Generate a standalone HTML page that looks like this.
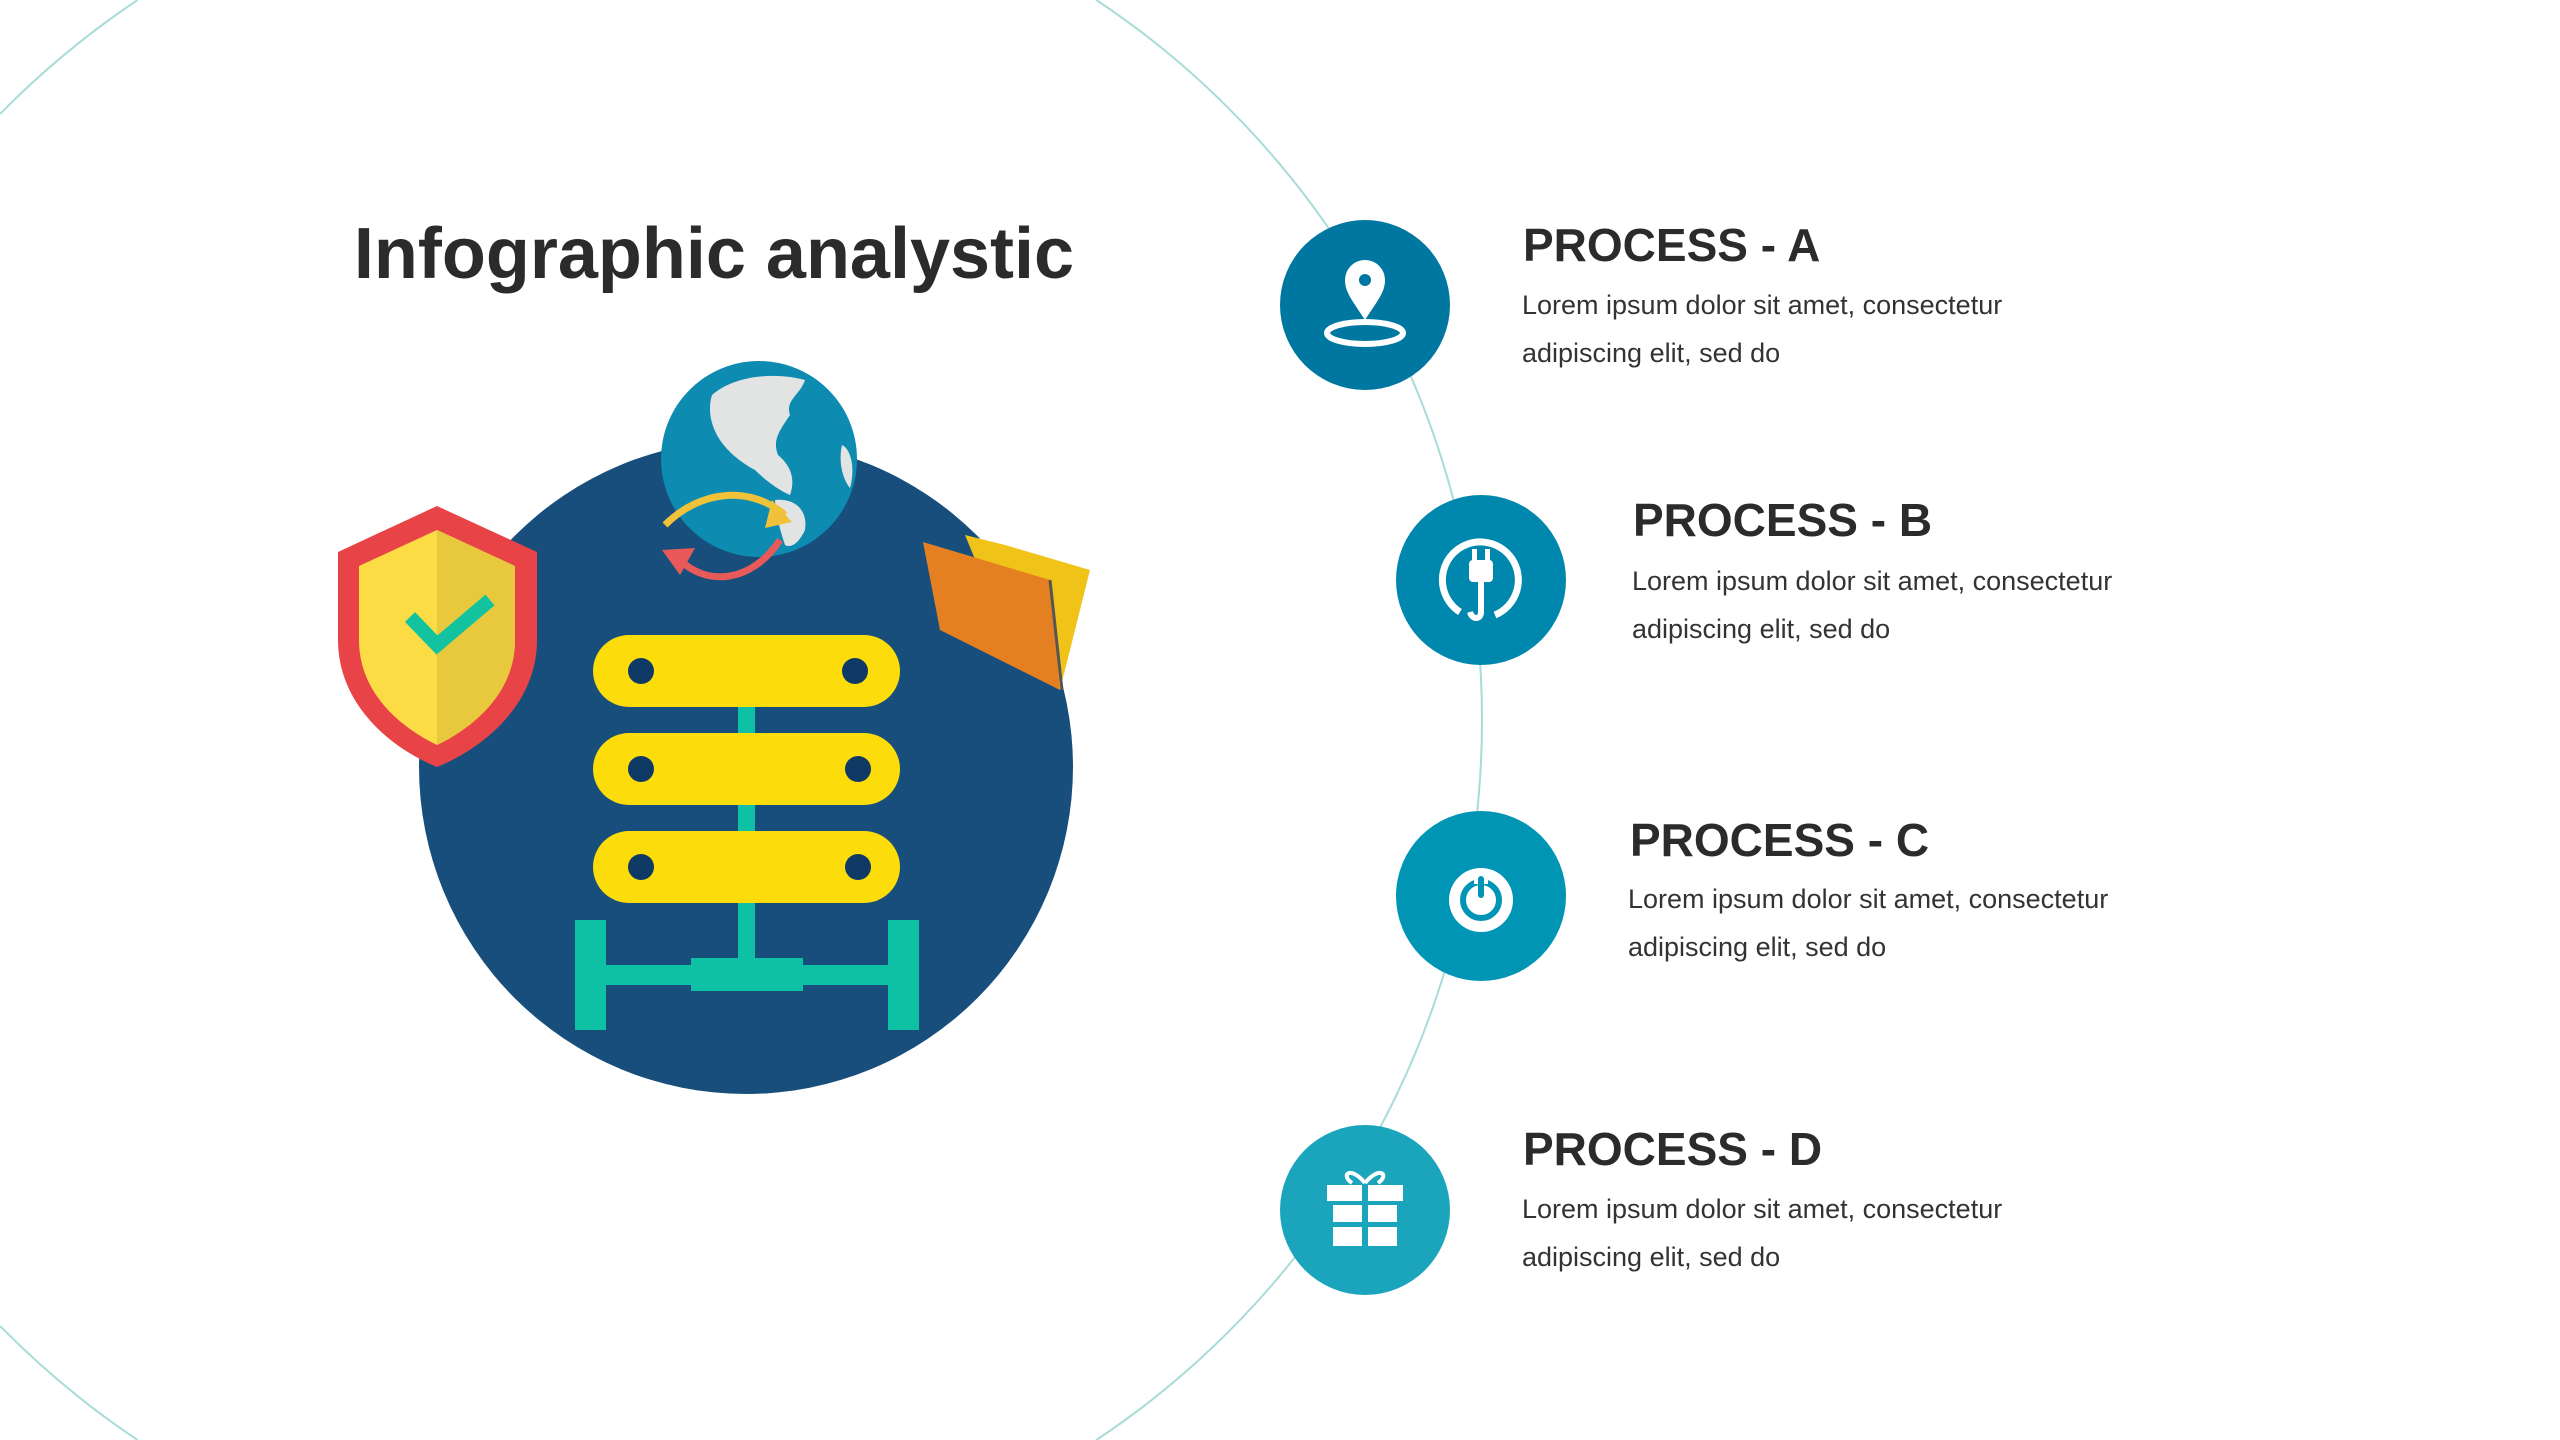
<!DOCTYPE html>
<html><head><meta charset="utf-8"><style>html,body{margin:0;padding:0;background:#fff;width:2560px;height:1440px;overflow:hidden}svg{display:block}</style></head>
<body>
<svg width="2560" height="1440" viewBox="0 0 2560 1440" xmlns="http://www.w3.org/2000/svg" font-family="Liberation Sans, sans-serif">
<g fill="none" stroke="#a8dcd8" stroke-width="2">
<path d="M1096.4,0 A865,865 0 0 1 1096.4,1440"/>
<path d="M137.6,0 A865,865 0 0 0 0,114"/>
<path d="M0,1326 A865,865 0 0 0 137.6,1440"/>
</g>
<text x="714" y="278" text-anchor="middle" font-size="72" font-weight="bold" fill="#2b2b2b">Infographic analystic</text>
<!-- illustration -->
<circle cx="746" cy="767" r="327" fill="#174e7c"/>
<!-- globe -->
<circle cx="759" cy="459" r="98" fill="#0e8bb0"/>
<path d="M712,395 C735,375 775,372 805,380 C800,395 785,400 790,415 C780,430 772,440 778,455 C790,465 796,478 790,495 C778,490 765,480 755,470 C740,462 725,450 717,435 C710,422 708,408 712,395Z" fill="#e2e4e4"/>
<path d="M775,500 C795,498 808,510 805,530 C798,545 790,548 785,545 C780,530 776,515 775,500Z" fill="#e2e4e4"/>
<path d="M842,445 C852,450 855,470 850,488 C843,480 838,462 842,445Z" fill="#e2e4e4"/>
<path d="M665,525 C700,490 750,485 785,515" fill="none" stroke="#f0c23a" stroke-width="7"/>
<path d="M772,500 L792,522 L765,528Z" fill="#f0c23a"/>
<path d="M780,540 C750,585 705,585 680,560" fill="none" stroke="#e85a5a" stroke-width="7"/>
<path d="M662,550 L695,548 L680,575Z" fill="#e85a5a"/>
<!-- shield -->
<path d="M437,506 L537,552 L537,640 C537,700 490,745 437,767 C384,745 338,700 338,640 L338,552Z" fill="#e84448"/>
<path d="M437,530 L515,566 L515,640 C515,690 478,725 437,745 C396,725 359,690 359,640 L359,566Z" fill="#fcdc45"/>
<path d="M437,530 L515,566 L515,640 C515,690 478,725 437,745Z" fill="#e8c93e"/>
<path d="M410,617 L437,645 L490,600" fill="none" stroke="#13c3a0" stroke-width="14"/>
<!-- folder -->
<path d="M965,535 L1005,545 L1090,570 L1060,690 L1000,620Z" fill="#f0c318"/>
<path d="M923,542 L1050,580 L1060,690 L940,630Z" fill="#e58022"/>
<path d="M1050,580 L1062,690" stroke="#555" stroke-width="3"/>
<!-- server -->
<g fill="#fcdc0a">
<rect x="593" y="635" width="307" height="72" rx="36"/>
<rect x="593" y="733" width="307" height="72" rx="36"/>
<rect x="593" y="831" width="307" height="72" rx="36"/>
</g>
<g fill="#0f3a66">
<circle cx="641" cy="671" r="13"/><circle cx="855" cy="671" r="13"/>
<circle cx="641" cy="769" r="13"/><circle cx="858" cy="769" r="13"/>
<circle cx="641" cy="867" r="13"/><circle cx="858" cy="867" r="13"/>
</g>
<g fill="#0ec0a4">
<rect x="738" y="707" width="17" height="26"/><rect x="738" y="805" width="17" height="26"/>
<rect x="738" y="903" width="17" height="60"/>
<rect x="575" y="920" width="31" height="110"/><rect x="888" y="920" width="31" height="110"/>
<rect x="606" y="965" width="282" height="20"/>
<rect x="691" y="958" width="112" height="33"/>
</g>
<!-- process circles -->
<circle cx="1365" cy="305" r="85" fill="#0077a0"/>
<circle cx="1481" cy="580" r="85" fill="#0087ad"/>
<circle cx="1481" cy="896" r="85" fill="#0095b5"/>
<circle cx="1365" cy="1210" r="85" fill="#1ba5bd"/>
<!-- icon A -->
<path d="M1365,320 C1352,300 1345,292 1345,280 A20,20 0 0 1 1385,280 C1385,292 1378,300 1365,320Z" fill="#fff"/>
<circle cx="1365" cy="280" r="6" fill="#0077a0"/>
<ellipse cx="1365" cy="333" rx="38" ry="11" fill="none" stroke="#fff" stroke-width="6"/>
<!-- icon B -->
<path d="M1460,612 A38,38 0 1 1 1495,615" fill="none" stroke="#fff" stroke-width="7"/>
<rect x="1469" y="560" width="24" height="22" rx="4" fill="#fff"/>
<rect x="1472" y="549" width="5" height="12" fill="#fff"/><rect x="1485" y="549" width="5" height="12" fill="#fff"/>
<path d="M1481,582 L1481,612 C1481,620 1472,620 1470,612" fill="none" stroke="#fff" stroke-width="6"/>
<!-- icon C -->
<circle cx="1481" cy="900" r="32" fill="#fff"/>
<circle cx="1481" cy="900" r="18" fill="none" stroke="#0095b5" stroke-width="6"/>
<rect x="1474" y="872" width="14" height="12" fill="#fff"/>
<rect x="1478" y="876" width="6" height="22" rx="3" fill="#0095b5"/>
<!-- icon D -->
<g fill="#fff">
<rect x="1327" y="1185" width="76" height="16"/>
<rect x="1333" y="1205" width="64" height="41"/>
</g>
<rect x="1362" y="1185" width="6" height="61" fill="#1ba5bd"/>
<rect x="1333" y="1222" width="64" height="5" fill="#1ba5bd"/>
<path d="M1365,1183 C1350,1165 1340,1175 1352,1183 M1365,1183 C1380,1165 1390,1175 1378,1183" fill="none" stroke="#fff" stroke-width="4"/>
<!-- texts -->
<g fill="#2b2b2b" font-weight="bold" font-size="46">
<text x="1523" y="261">PROCESS - A</text>
<text x="1633" y="536">PROCESS - B</text>
<text x="1630" y="856">PROCESS - C</text>
<text x="1523" y="1165">PROCESS - D</text>
</g>
<g fill="#333" font-size="27">
<text x="1522" y="314">Lorem ipsum dolor sit amet, consectetur</text>
<text x="1522" y="362">adipiscing elit, sed do</text>
<text x="1632" y="590">Lorem ipsum dolor sit amet, consectetur</text>
<text x="1632" y="638">adipiscing elit, sed do</text>
<text x="1628" y="908">Lorem ipsum dolor sit amet, consectetur</text>
<text x="1628" y="956">adipiscing elit, sed do</text>
<text x="1522" y="1218">Lorem ipsum dolor sit amet, consectetur</text>
<text x="1522" y="1266">adipiscing elit, sed do</text>
</g>
</svg>
</body></html>
